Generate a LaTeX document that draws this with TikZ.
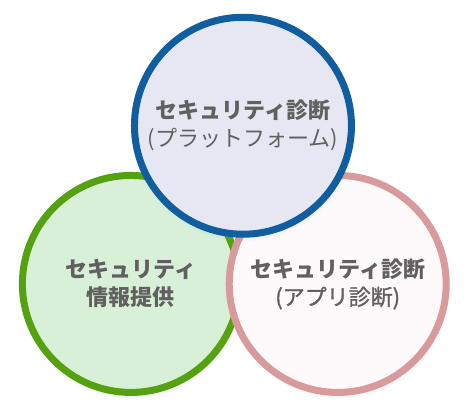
\documentclass[tikz,border=0pt]{standalone}
\usepackage{fontspec}
\setmainfont{Noto Sans CJK JP}
\newfontfamily\medfont[FakeBold=1.2]{Noto Sans CJK JP}
\usetikzlibrary{shadows}
\definecolor{platline}{RGB}{16,94,160}
\definecolor{platfill}{RGB}{230,231,242}
\definecolor{infoline}{RGB}{84,162,16}
\definecolor{infofill}{RGB}{215,240,215}
\definecolor{appline}{RGB}{216,154,154}
\definecolor{appfill}{RGB}{254,250,251}
\definecolor{ink}{RGB}{96,96,96}

\begin{document}
\begin{tikzpicture}[
    bub/.style={circle, line width=7pt, minimum size=217pt, inner sep=0pt,
                align=center, font=\fontsize{22}{28}\selectfont, text=ink,
                circular drop shadow={shadow scale=1.03, shadow xshift=1pt,
                  shadow yshift=-4pt, opacity=0.25}}]
  \useasboundingbox (0,0) rectangle (16.45,-14.73);

  % ---------- three circles, back to front ---------------------------------
  \node[bub, draw=infoline, fill=infofill] (info) at (4.60,-9.98)
    {\textbf{セキュリティ}\\ \textbf{情報提供}};
  \node[bub, draw=appline, fill=appfill] (app) at (11.87,-9.98)
    {\textbf{セキュリティ診断}\\ {\medfont (アプリ診断)}};
  \node[bub, draw=platline, fill=platfill] (plat) at (8.54,-4.42)
    {\textbf{セキュリティ診断}\\ (プラットフォーム)};
\end{tikzpicture}
\end{document}
